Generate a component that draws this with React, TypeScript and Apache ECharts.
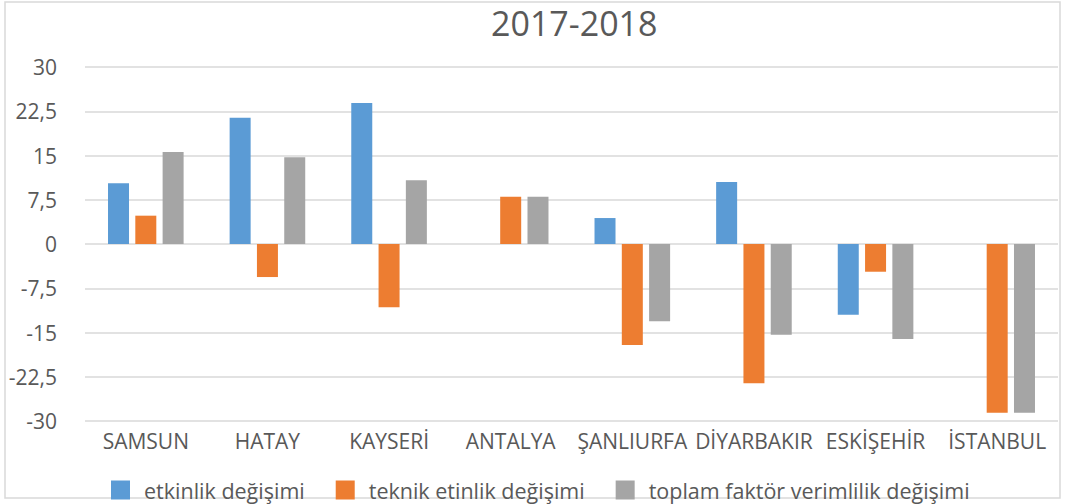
import React, { useEffect, useRef } from "react";
import * as echarts from "echarts";

const categories = ["SAMSUN", "HATAY", "KAYSERİ", "ANTALYA", "ŞANLIURFA", "DİYARBAKIR", "ESKİŞEHİR", "İSTANBUL"];
const seriesNames = ["etkinlik değişimi", "teknik etinlik değişimi", "toplam faktör verimlilik değişimi"];
const etkinlik = [10.3, 21.4, 23.9, 0, 4.4, 10.5, -12.0, 0];
const teknik = [4.8, -5.6, -10.7, 8.0, -17.1, -23.6, -4.7, -28.6];
const toplam = [15.6, 14.7, 10.8, 8.0, -13.1, -15.4, -16.1, -28.6];
const colors = ["#5B9BD5", "#ED7D31", "#A5A5A5"];
const FONT = "'Open Sans', 'Noto Sans', sans-serif";
const TXT = "#595959";

export default function App() {
  const ref = useRef<HTMLDivElement>(null);
  useEffect(() => {
    document.body.style.margin = "0";
    const chart = echarts.init(ref.current!, null, { renderer: "svg" });
    const data = [etkinlik, teknik, toplam];
    chart.setOption({
      animation: false,
      backgroundColor: "#ffffff",
      textStyle: { fontFamily: FONT },
      title: {
        text: "2017-2018",
        left: 486,
        top: 1,
        textStyle: { fontFamily: FONT, fontSize: 34, fontWeight: "normal", color: TXT },
      },
      graphic: [
        {
          type: "rect",
          shape: { x: 5, y: 2, width: 1055, height: 496 },
          style: { fill: "none", stroke: "#d9d9d9", lineWidth: 1.5 },
          silent: true,
        },
      ],
      legend: {
        left: 106,
        top: 473,
        itemWidth: 19,
        itemHeight: 19,
        itemGap: 31,
        icon: "rect",
        textStyle: { fontFamily: FONT, fontSize: 21.5, lineHeight: 24, color: TXT, padding: [0, 0, 0, 9] },
        data: seriesNames,
      },
      grid: { left: 85, right: 7, top: 67, bottom: 83 },
      xAxis: {
        type: "category",
        data: categories,
        axisLine: { show: false },
        axisTick: { show: false },
        axisLabel: { fontFamily: FONT, fontSize: 21, color: TXT, margin: 9, interval: 0 },
      },
      yAxis: {
        type: "value",
        min: -30,
        max: 30,
        interval: 7.5,
        axisLine: { show: false },
        axisTick: { show: false },
        splitLine: { lineStyle: { color: "#d9d9d9", width: 1.5 } },
        axisLabel: {
          fontFamily: FONT,
          fontSize: 21,
          color: TXT,
          margin: 28,
          formatter: (v: number) => String(v).replace(".", ","),
        },
      },
      series: seriesNames.map((name, i) => ({
        name,
        type: "bar",
        data: data[i],
        barWidth: 21,
        barGap: "30%",
        itemStyle: { color: colors[i] },
      })),
    });
    return () => chart.dispose();
  }, []);
  return <div ref={ref} style={{ width: 1065, height: 504 }} />;
}
